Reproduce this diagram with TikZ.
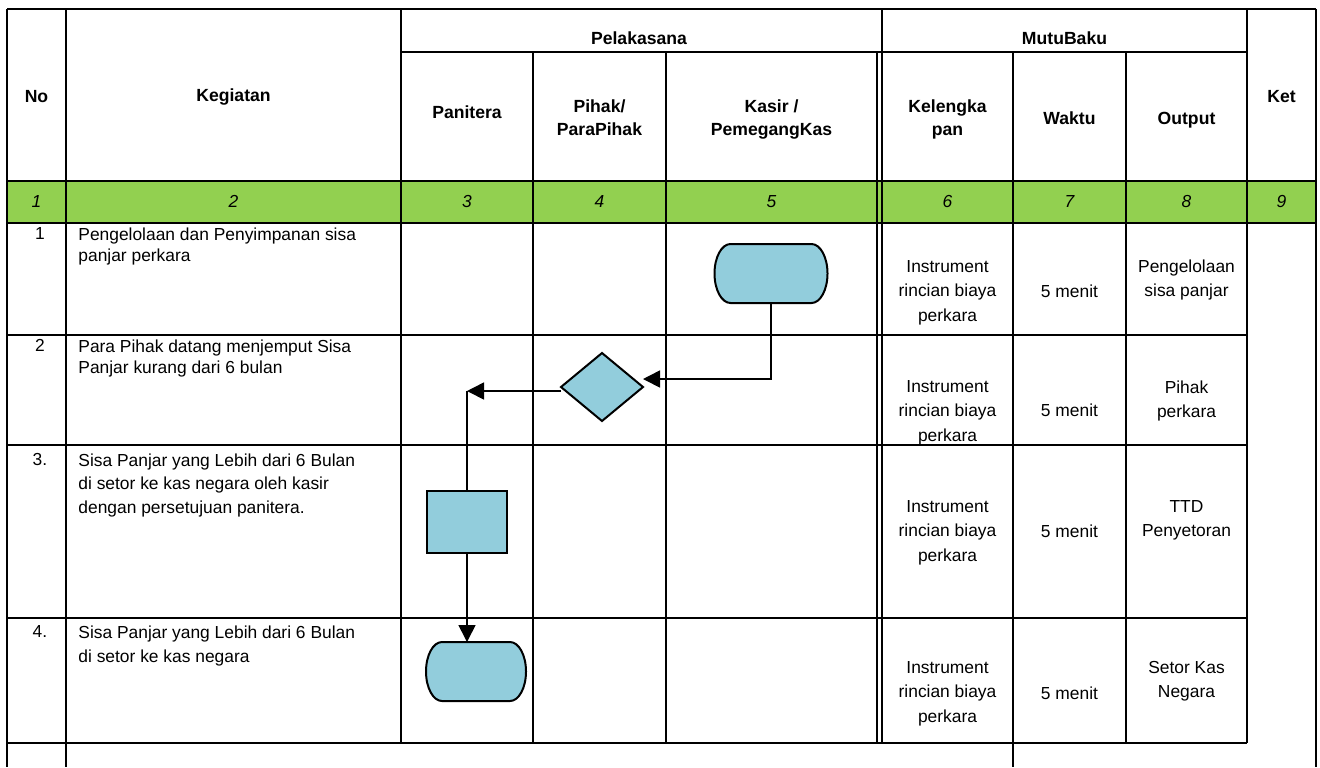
\documentclass[tikz,border=0pt]{standalone}
\usepackage{fontspec}
\setmainfont{Liberation Sans}
\usepackage{tikz}
\usetikzlibrary{shapes.geometric,arrows.meta}
\definecolor{HeadGreen}{RGB}{146,208,80}
\definecolor{ShapeBlue}{RGB}{146,205,220}

\begin{document}
\begin{tikzpicture}[x=0.5pt,y=-0.5pt,
    tblline/.style={black,line width=1.25pt},
    dblline/.style={black,line width=0.85pt},
    celltxt/.style={inner sep=0pt,anchor=north,align=center,font=\fontsize{8.7}{12.2}\selectfont},
    headtxt/.style={celltxt,font=\fontsize{8.8}{11.8}\selectfont\bfseries},
    numtxt/.style={celltxt,font=\fontsize{8.7}{12}\selectfont\itshape},
    acttxt/.style={celltxt,anchor=north west,align=left},
    shapebox/.style={draw=black,line width=1pt,fill=ShapeBlue,inner sep=0pt,outer sep=0pt},
    shapeline/.style={draw=black,line width=1pt,fill=ShapeBlue},
    flowline/.style={black,line width=0.8pt},
    flowarrow/.style={-{Triangle[length=8.5pt,width=8.5pt]}}]
    \useasboundingbox (0,0) rectangle (1320,767);
    \fill[HeadGreen] (7,181) rectangle (1316,223);

    % header
    \node[headtxt] (hNo) at (36.5,90) {No};
    \node[headtxt] (hKeg) at (233.5,88) {Kegiatan};
    \node[headtxt] (hPel) at (639,31) {Pelakasana};
    \node[headtxt] (hMutu) at (1064.5,31) {MutuBaku};
    \node[headtxt] (hPan) at (467,105) {Panitera};
    \node[headtxt] (hPihak) at (599.5,99) {Pihak/\\ParaPihak};
    \node[headtxt] (hKasir) at (771.5,99) {Kasir /\\PemegangKas};
    \node[headtxt] (hLengkap) at (947.5,99) {Kelengka\\pan};
    \node[headtxt] (hWaktu) at (1069.5,111) {Waktu};
    \node[headtxt] (hOut) at (1186.5,112) {Output};
    \node[headtxt] (hKet) at (1281.5,90) {Ket};

    % column numbers
    \node[numtxt] (c1) at (36.5,195) {1};
    \node[numtxt] (c2) at (233.5,195) {2};
    \node[numtxt] (c3) at (467,195) {3};
    \node[numtxt] (c4) at (599.5,195) {4};
    \node[numtxt] (c5) at (771.5,195) {5};
    \node[numtxt] (c6) at (947.5,195) {6};
    \node[numtxt] (c7) at (1069.5,195) {7};
    \node[numtxt] (c8) at (1186.5,195) {8};
    \node[numtxt] (c9) at (1281.5,195) {9};

    % rows
    \node[celltxt] (no1) at (40,227) {1};
    \node[celltxt] (no2) at (40,339) {2};
    \node[celltxt] (no3) at (40,453) {3.};
    \node[celltxt] (no4) at (40,625) {4.};
    \node[acttxt,font=\fontsize{8.7}{10.5}\selectfont] (act1) at (78,227) {Pengelolaan dan Penyimpanan sisa\\panjar perkara};
    \node[acttxt,font=\fontsize{8.7}{10.5}\selectfont] (act2) at (78,339) {Para Pihak datang menjemput Sisa\\Panjar kurang dari 6 bulan};
    \node[acttxt,font=\fontsize{8.7}{11.8}\selectfont] (act3) at (78,453) {Sisa Panjar yang Lebih dari 6 Bulan\\di setor ke kas negara oleh kasir\\dengan persetujuan panitera.};
    \node[acttxt,font=\fontsize{8.7}{12.2}\selectfont] (act4) at (78,625) {Sisa Panjar yang Lebih dari 6 Bulan\\di setor ke kas negara};

    \node[celltxt] (lk1) at (947.5,260) {Instrument\\rincian biaya\\perkara};
    \node[celltxt] (wk1) at (1069.5,284) {5 menit};
    \node[celltxt] (out1) at (1186.5,259) {Pengelolaan\\sisa panjar};
    \node[celltxt] (lk2) at (947.5,380) {Instrument\\rincian biaya\\perkara};
    \node[celltxt] (wk2) at (1069.5,403) {5 menit};
    \node[celltxt] (out2) at (1186.5,380) {Pihak\\perkara};
    \node[celltxt] (lk3) at (947.5,500) {Instrument\\rincian biaya\\perkara};
    \node[celltxt] (wk3) at (1069.5,524) {5 menit};
    \node[celltxt] (out3) at (1186.5,500) {TTD\\Penyetoran};
    \node[celltxt] (lk4) at (947.5,661) {Instrument\\rincian biaya\\perkara};
    \node[celltxt] (wk4) at (1069.5,686) {5 menit};
    \node[celltxt] (out4) at (1186.5,661) {Setor Kas\\Negara};

    % table lines
    \draw[tblline] (7,9) -- (1316,9);
    \draw[tblline] (401,52) -- (1247,52);
    \draw[tblline] (7,181) -- (1316,181);
    \draw[tblline] (7,223) -- (1316,223);
    \draw[tblline] (7,335) -- (1247,335);
    \draw[tblline] (7,445) -- (1247,445);
    \draw[tblline] (7,618) -- (1247,618);
    \draw[tblline] (7,743) -- (1247,743);
    \draw[tblline] (7,9) -- (7,767);
    \draw[tblline] (66,9) -- (66,767);
    \draw[tblline] (401,9) -- (401,743);
    \draw[tblline] (533,52) -- (533,743);
    \draw[tblline] (666,52) -- (666,743);
    \draw[tblline] (882,9) -- (882,52);
    \draw[dblline] (877,52) -- (877,743);
    \draw[dblline] (882,52) -- (882,743);
    \draw[tblline] (1013,52) -- (1013,767);
    \draw[tblline] (1126,52) -- (1126,743);
    \draw[tblline] (1247,9) -- (1247,743);
    \draw[tblline] (1316,9) -- (1316,767);

    % flow shapes
    \node[minimum width=56.5pt,minimum height=29.5pt,inner sep=0pt,outer sep=0pt] (start) at (771,273.5) {};
    \draw[shapeline] ([xshift=8pt]start.north west) -- ([xshift=-8pt]start.north east)
        arc[start angle=90,end angle=-90,x radius=8pt,y radius=14.75pt]
        -- ([xshift=8pt]start.south west)
        arc[start angle=270,end angle=90,x radius=8pt,y radius=14.75pt] -- cycle;
    \node[shapebox,diamond,minimum width=41pt,minimum height=34pt] (dec) at (602,387) {};
    \node[shapebox,minimum width=40pt,minimum height=31pt] (box) at (467,522) {};
    \node[minimum width=50pt,minimum height=29.5pt,inner sep=0pt,outer sep=0pt] (stop) at (476,671.5) {};
    \draw[shapeline] ([xshift=8pt]stop.north west) -- ([xshift=-8pt]stop.north east)
        arc[start angle=90,end angle=-90,x radius=8pt,y radius=14.75pt]
        -- ([xshift=8pt]stop.south west)
        arc[start angle=270,end angle=90,x radius=8pt,y radius=14.75pt] -- cycle;

    % connectors
    \coordinate (declft) at ([yshift=-2pt]dec.west);
    \draw[flowline,flowarrow] (start.south) |- ([yshift=4pt]dec.east);
    \draw[flowline,flowarrow] (declft) -- (declft -| box.north) coordinate (bend);
    \draw[flowline] (bend) -- (box.north);
    \draw[flowline,flowarrow] (box.south) -- (box.south |- stop.north);
\end{tikzpicture}
\end{document}
